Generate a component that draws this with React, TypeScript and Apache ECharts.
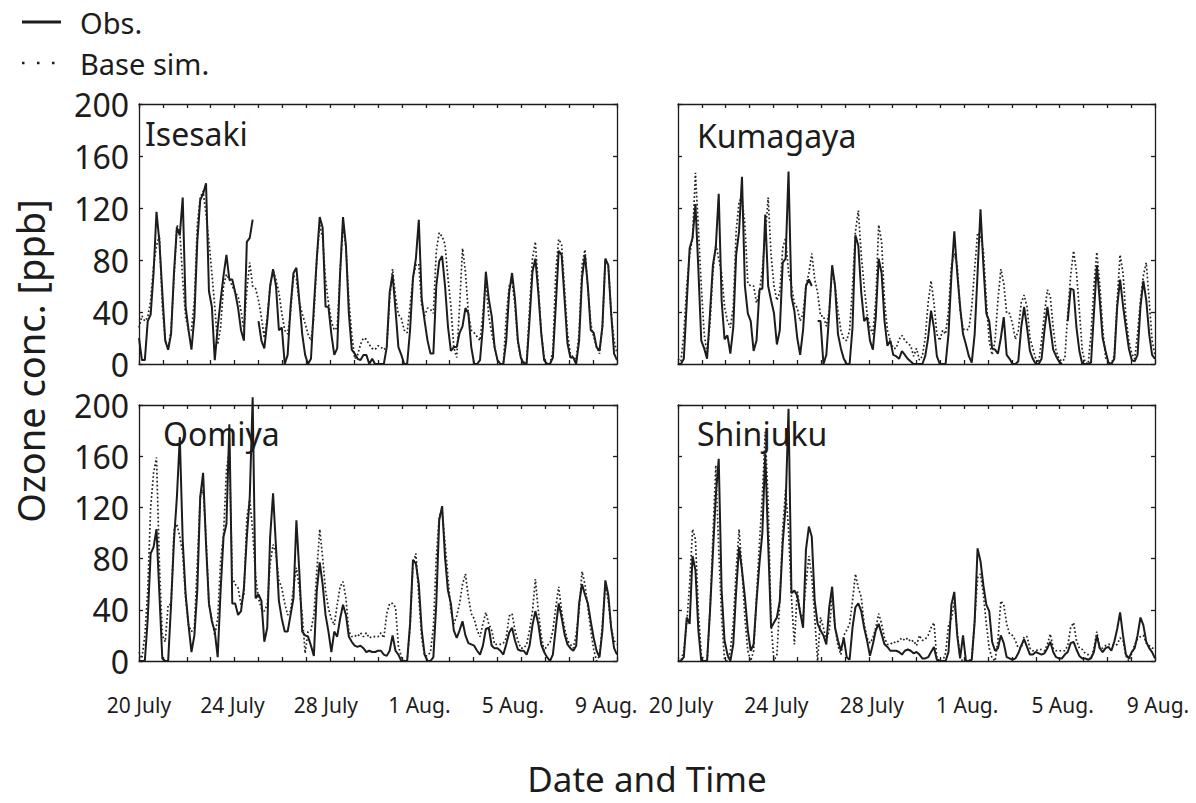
import React, { useEffect, useRef } from "react";
import * as echarts from "echarts";

// Hourly ozone sampled every 3 h from 20 July 00:00 (hour 0) to hour 492.
const STEP_HOURS = 3;
const X_MAX_HOURS = 492;
const TICK_HOURS = 24.6;
const LABEL_HOURS = 96;

const dateLabels = ["20 July", "24 July", "28 July", "1 Aug.", "5 Aug.", "9 Aug."];
const stationNames = ["Isesaki", "Kumagaya", "Oomiya", "Shinjuku"];
const seriesNames = ["Obs.", "Base sim."];

const isesakiObs = [
  20, 3, 3, 33, 38, 70, 117, 94, 55, 18, 11, 23, 70, 105, 99, 128,
  44, 26, 11, 36, 94, 126, 131, 139, 56, 44, 3, 28, 49, 68, 84, 65,
  65, 55, 43, 26, 18, 94, 97, 111, null, 33, 18, 12, 33, 60, 73, 60,
  26, 28, 0, 7, 44, 70, 74, 49, 23, 7, 0, 4, 44, 81, 113, 105,
  44, 44, 23, 7, 12, 70, 113, 91, 39, 11, 8, 4, 3, 7, 7, 0,
  4, 0, 0, 0, 0, 13, 55, 69, 42, 13, 7, 0, 0, 26, 66, 81,
  111, 50, 33, 18, 8, 8, 60, 79, 83, 60, 29, 10, 13, 13, 24, 29,
  43, 39, 13, 0, 0, 3, 29, 71, 50, 37, 13, 3, 0, 0, 18, 55,
  70, 50, 18, 5, 0, 0, 34, 71, 81, 55, 24, 3, 0, 0, 5, 45,
  87, 84, 50, 16, 5, 5, 0, 18, 66, 84, 60, 26, 24, 13, 10, 29,
  81, 76, 39, 8, 3,
];
const isesakiSim = [
  28, 37, 33, 36, 49, 76, 91, 99, 44, 18, 12, 26, 65, 107, 102, 65,
  36, 26, 26, 49, 107, 128, 133, 115, 94, 70, 44, 15, 28, 60, 69, 65,
  60, 55, 52, 41, 26, 57, 78, 60, 58, 49, 36, 20, 36, 60, 72, 65,
  55, 39, 26, 23, 39, 68, 65, 47, 39, 31, 23, 18, 36, 81, 107, 97,
  65, 47, 33, 26, 28, 70, 107, 89, 49, 23, 4, 7, 15, 20, 19, 15,
  12, 11, 14, 13, 11, 13, 50, 73, 52, 38, 35, 26, 24, 45, 66, 76,
  77, 45, 37, 43, 42, 39, 87, 101, 98, 92, 66, 45, 13, 5, 45, 89,
  71, 39, 26, 24, 21, 18, 39, 64, 37, 24, 13, 3, 0, 0, 37, 60,
  64, 45, 16, 5, 0, 3, 42, 81, 94, 60, 24, 5, 0, 0, 10, 71,
  96, 92, 58, 24, 8, 5, 4, 24, 76, 88, 58, 31, 21, 13, 8, 29,
  81, 76, 39, 18, 8,
];

const kumagayaObs = [
  0, 0, 4, 47, 89, 97, 123, 73, 18, 12, 4, 39, 76, 90, 131, 49,
  19, 22, 8, 28, 84, 102, 144, 60, 39, 33, 10, 18, 57, 58, 115, 60,
  49, 39, 15, 26, 78, 81, 148, 52, 41, 20, 7, 26, 60, 65, 60, null,
  33, 33, 0, 7, 39, 76, 60, 23, 12, 4, 0, 0, 28, 99, 91, 55,
  33, 36, 18, 11, 36, 81, 70, 33, 14, 18, 7, 6, 4, 10, 7, 4,
  2, 0, 0, 0, 0, 6, 20, 41, 28, 6, 0, 0, 0, 23, 68, 102,
  70, 44, 23, 15, 6, 1, 23, 70, 119, 76, 39, 33, 12, 11, 8, 20,
  36, 7, 4, 0, 0, 2, 28, 44, 28, 10, 4, 0, 0, 4, 26, 44,
  28, 11, 6, 2, 0, null, 33, 58, 57, 28, 10, 0, 0, 0, 1, 39,
  76, 49, 20, 10, 1, 0, 4, 44, 65, 45, 28, 12, 3, 2, 7, 44,
  64, 49, 23, 7, 4,
];
const kumagayaSim = [
  4, 2, 23, 60, 84, 97, 147, 105, 60, 23, 8, 31, 70, 92, 81, 70,
  44, 33, 28, 44, 102, 125, 128, 107, 62, 60, 60, 47, 55, 73, 99, 128,
  84, 60, 49, 55, 89, 97, 70, 60, 47, 43, 33, 39, 60, 70, 85, 65,
  55, 37, 37, 29, 41, 73, 60, 41, 26, 19, 18, 26, 60, 102, 118, 84,
  60, 39, 28, 23, 49, 107, 94, 49, 26, 18, 12, 12, 19, 22, 18, 16,
  14, 6, 12, 3, 6, 20, 47, 64, 47, 23, 18, 26, 23, 41, 76, 85,
  76, 41, 27, 26, 27, 44, 73, 101, 99, 87, 49, 18, 7, 18, 49, 73,
  62, 39, 39, 31, 19, 26, 47, 53, 44, 20, 12, 4, 1, 18, 39, 57,
  52, 28, 10, 4, 2, 4, 39, 68, 87, 71, 41, 10, 1, 0, 23, 60,
  86, 62, 28, 5, 1, 0, 7, 49, 84, 70, 36, 18, 8, 4, 23, 49,
  68, 78, 49, 18, 7,
];

const oomiyaObs = [
  0, 0, 0, 33, 84, 89, 103, 52, 2, 0, 0, 44, 94, 128, 175, 94,
  52, 28, 7, 20, 55, 128, 147, 91, 45, 31, 23, 3, 55, 97, 107, 185,
  45, 45, 36, 39, 57, 97, 128, 206, 49, 52, 47, 15, 26, 97, 131, 89,
  47, 33, 23, 23, 36, 49, 110, 70, 23, 20, 19, 12, 4, 55, 77, 60,
  36, 23, 7, 23, 19, 33, 44, 36, 19, 15, 12, 11, 12, 10, 7, 8,
  7, 7, 8, 8, 5, 4, 8, 20, 8, 5, 0, 0, 0, 29, 79, 76,
  60, 24, 5, 0, 0, 3, 45, 110, 121, 81, 55, 45, 24, 18, 24, 31,
  20, 14, 13, 12, 8, 5, 12, 25, 26, 12, 10, 10, 8, 5, 13, 22,
  26, 16, 9, 8, 8, 5, 12, 28, 39, 29, 13, 7, 3, 0, 5, 26,
  45, 34, 21, 13, 10, 8, 12, 45, 60, 52, 45, 31, 18, 8, 3, 24,
  63, 52, 26, 10, 5,
];
const oomiyaSim = [
  7, 2, 20, 55, 120, 147, 159, 76, 20, 15, 44, 44, 102, 107, 97, 84,
  49, 28, 23, 26, 76, 128, 134, 97, 44, 33, 20, 33, 78, 99, 149, 165,
  65, 60, 57, 44, 52, 112, 126, 102, 66, 49, 41, 39, 44, 76, 91, 84,
  63, 57, 45, 36, 39, 57, 73, 57, 36, 6, 23, 24, 36, 70, 103, 81,
  55, 41, 33, 28, 44, 58, 62, 49, 23, 19, 20, 19, 22, 19, 22, 18,
  19, 19, 19, 22, 18, 37, 45, 45, 42, 12, 3, 0, 0, 26, 76, 84,
  50, 18, 4, 4, 7, 26, 81, 113, 118, 92, 66, 39, 29, 35, 45, 60,
  68, 50, 37, 33, 24, 19, 29, 38, 29, 24, 13, 13, 13, 14, 18, 35,
  37, 24, 16, 10, 10, 13, 24, 39, 64, 39, 20, 8, 12, 14, 24, 42,
  58, 39, 26, 16, 13, 10, 21, 39, 70, 60, 42, 24, 9, 0, 4, 29,
  60, 47, 26, 16, 13,
];

const shinjukuObs = [
  0, 0, 3, 34, 29, 82, 71, 24, 0, 0, 0, 39, 84, 129, 158, 55,
  16, 5, 0, 13, 55, 89, 71, 50, 24, 8, 13, 47, 76, 100, 162, 92,
  26, 30, 34, 47, 92, 121, 197, 53, 55, 51, 38, 26, 87, 105, 97, 47,
  29, 24, 20, 13, 42, 58, 26, 16, 8, 18, 3, 1, 26, 42, 45, 39,
  26, 16, 4, 13, 24, 29, 21, 13, 11, 8, 8, 8, 7, 5, 8, 9,
  8, 6, 7, 5, 2, 2, 3, 7, 11, 1, 0, 0, 0, 7, 44, 54,
  20, 2, 20, 0, 0, 1, 31, 88, 78, 59, 44, 39, 15, 8, 10, 20,
  14, 3, 2, 1, 2, 6, 12, 17, 11, 5, 5, 7, 6, 5, 6, 10,
  15, 7, 3, 2, 2, 5, 7, 14, 15, 9, 4, 2, 2, 1, 2, 7,
  20, 10, 7, 10, 11, 8, 15, 25, 38, 20, 5, 2, 7, 10, 20, 34,
  28, 15, 10, 7, 2,
];
const shinjukuSim = [
  0, 0, 8, 29, 60, 103, 95, 39, 5, 0, 0, 39, 97, 153, 87, 34,
  1, 0, 8, 29, 71, 103, 71, 34, 8, 0, 8, 50, 92, 129, 179, 124,
  29, 0, 5, 47, 103, 134, 103, 50, 13, 55, 38, 34, 60, 82, 66, 34,
  0, 34, 26, 16, 24, 50, 26, 12, 5, 20, 24, 29, 47, 68, 57, 50,
  29, 18, 14, 18, 26, 37, 29, 18, 13, 13, 15, 14, 16, 18, 16, 18,
  15, 16, 12, 20, 16, 17, 20, 26, 30, 2, 0, 0, 6, 28, 33, 46,
  23, 2, 0, 0, 0, 3, 31, 65, 68, 52, 29, 10, 2, 0, 16, 47,
  44, 29, 21, 20, 16, 10, 10, 19, 19, 10, 8, 8, 9, 9, 8, 13,
  21, 10, 8, 8, 8, 8, 12, 26, 30, 16, 10, 9, 6, 5, 2, 10,
  23, 10, 10, 12, 13, 13, 12, 13, 18, 16, 4, 0, 6, 13, 17, 19,
  20, 14, 12, 10, 10,
];

const obsByStation = [isesakiObs, kumagayaObs, oomiyaObs, shinjukuObs];
const simByStation = [isesakiSim, kumagayaSim, oomiyaSim, shinjukuSim];

const FONT = "'Noto Sans', 'DejaVu Sans', sans-serif";
const INK = "#1c1c1c";
const SIM_INK = "#222222";
const SIM_DASH = [1.7, 2.3];

// Panel boxes: [left, top, width, height]
const panelBoxes = [
  [139, 104, 478, 260],
  [678, 104, 477, 260],
  [139, 405, 478, 256],
  [678, 405, 477, 256],
];
// Station name anchor inside each panel
const titleSpots = [
  [145, 133],
  [697, 135],
  [163, 433],
  [697, 433],
];

const toPairs = (vals: (number | null)[]) =>
  vals.map((v, i) => [i * STEP_HOURS, v === null ? "-" : v]);

function buildOption() {
  const grid: any[] = [];
  const xAxis: any[] = [];
  const yAxis: any[] = [];
  const series: any[] = [];

  const lineSt = { color: INK, width: 1.3 };
  const tick = { show: true, inside: true, length: 4, lineStyle: lineSt };

  panelBoxes.forEach(([left, top, width, height], g) => {
    const isLeft = g % 2 === 0;
    const isBottom = g >= 2;
    grid.push({ left, top, width, height, containLabel: false });

    // data axis (bottom edge with tick marks)
    xAxis.push({
      gridIndex: g, type: "value", position: "bottom",
      min: 0, max: X_MAX_HOURS, interval: TICK_HOURS,
      axisLine: { show: true, onZero: false, lineStyle: lineSt },
      axisTick: tick, axisLabel: { show: false }, splitLine: { show: false },
    });
    // top edge
    xAxis.push({
      gridIndex: g, type: "value", position: "top",
      min: 0, max: X_MAX_HOURS, interval: TICK_HOURS,
      axisLine: { show: true, onZero: false, lineStyle: lineSt },
      axisTick: tick, axisLabel: { show: false }, splitLine: { show: false },
    });
    // date labels
    xAxis.push({
      gridIndex: g, type: "value", position: "bottom",
      min: 0, max: isLeft ? 491 : 480, interval: LABEL_HOURS,
      axisLine: { show: false }, axisTick: { show: false }, splitLine: { show: false },
      axisLabel: {
        show: isBottom,
        margin: 33,
        fontSize: 21,
        fontFamily: FONT,
        color: INK,
        padding: isLeft ? 0 : [0, 0, 0, 6],
        formatter: (v: number) => {
          const k = v / LABEL_HOURS;
          return Number.isInteger(k) && k < dateLabels.length ? dateLabels[k] : "";
        },
      },
    });

    yAxis.push({
      gridIndex: g, type: "value", position: "left",
      min: 0, max: 200, interval: 40,
      axisLine: { show: true, onZero: false, lineStyle: lineSt },
      axisTick: tick, splitLine: { show: false },
      axisLabel: { show: isLeft, fontSize: 32, fontFamily: FONT, color: INK, margin: 10 },
    });
    yAxis.push({
      gridIndex: g, type: "value", position: "right",
      min: 0, max: 200, interval: 40,
      axisLine: { show: true, onZero: false, lineStyle: lineSt },
      axisTick: tick, splitLine: { show: false }, axisLabel: { show: false },
    });

    series.push({
      name: seriesNames[0], type: "line", xAxisIndex: 3 * g, yAxisIndex: 2 * g,
      data: toPairs(obsByStation[g]), symbol: "none", showSymbol: false,
      clip: false, connectNulls: false,
      lineStyle: { color: INK, width: 2 }, itemStyle: { color: INK },
    });
    series.push({
      name: seriesNames[1], type: "line", xAxisIndex: 3 * g, yAxisIndex: 2 * g,
      data: toPairs(simByStation[g]), symbol: "none", showSymbol: false,
      clip: false,
      lineStyle: { color: SIM_INK, width: 1.7, type: SIM_DASH },
      itemStyle: { color: SIM_INK },
    });
  });

  const graphicEls: any[] = stationNames.map((name, i) => ({
    type: "text", x: titleSpots[i][0], y: titleSpots[i][1],
    style: { text: name, fontSize: 32, fontFamily: FONT, fill: INK, textVerticalAlign: "middle" },
  }));

  // key: solid line for observations, sparse dots for the base simulation
  graphicEls.push({
    type: "line", shape: { x1: 22, y1: 22, x2: 61, y2: 22 },
    style: { stroke: INK, lineWidth: 3 },
  });
  graphicEls.push({
    type: "line", shape: { x1: 22, y1: 63, x2: 56, y2: 63 },
    style: { stroke: INK, lineWidth: 2.5, lineDash: [2.5, 12.5] },
  });
  seriesNames.forEach((name, i) => {
    graphicEls.push({
      type: "text", x: 80, y: i === 0 ? 22 : 63,
      style: { text: name, fontSize: 29, fontFamily: FONT, fill: INK, textVerticalAlign: "middle" },
    });
  });

  graphicEls.push({
    type: "text", x: 30, y: 361, rotation: Math.PI / 2,
    style: {
      text: "Ozone conc. [ppb]", fontSize: 38, fontFamily: FONT, fill: INK,
      textAlign: "center", textVerticalAlign: "middle",
    },
  });
  graphicEls.push({
    type: "text", x: 647, y: 778,
    style: {
      text: "Date and Time", fontSize: 35, fontFamily: FONT, fill: INK,
      textAlign: "center", textVerticalAlign: "middle",
    },
  });

  return {
    animation: false,
    backgroundColor: "#ffffff",
    grid, xAxis, yAxis, series,
    graphic: { elements: graphicEls },
  };
}

export default function App() {
  const ref = useRef<HTMLDivElement>(null);
  useEffect(() => {
    if (!ref.current) return;
    const chart = echarts.init(ref.current, undefined, { renderer: "svg" });
    chart.setOption(buildOption() as any);
    return () => chart.dispose();
  }, []);
  return (
    <div
      ref={ref}
      style={{ position: "absolute", left: 0, top: 0, width: 1196, height: 803, background: "#fff" }}
    />
  );
}
